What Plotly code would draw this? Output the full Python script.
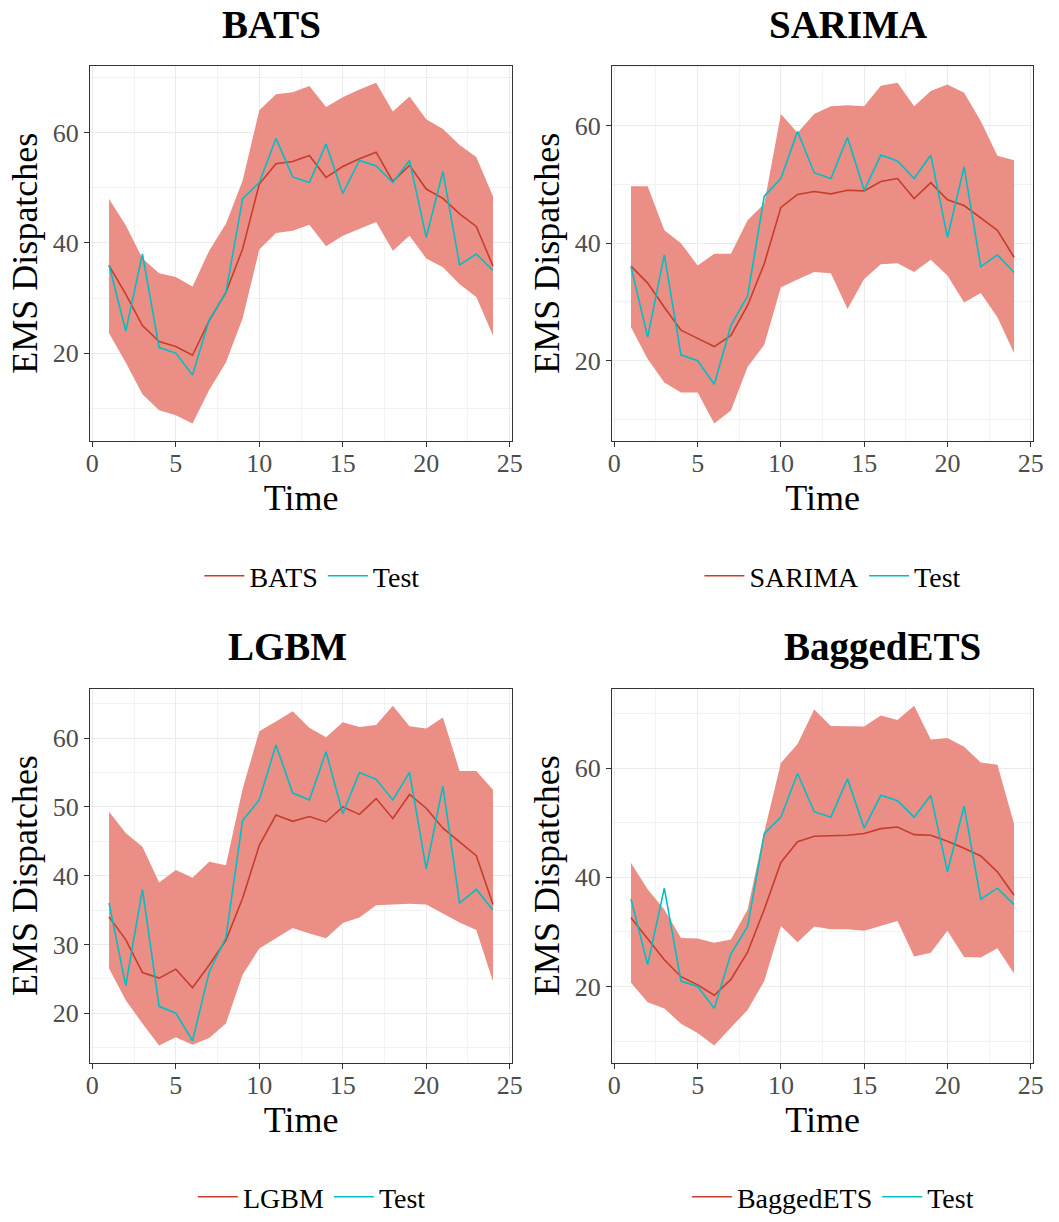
import plotly.graph_objects as go

time = list(range(1, 25))
test = [36, 24, 38, 21, 20, 16, 26, 31, 48, 51, 59, 52, 51, 58, 49, 55, 54, 51, 55, 41, 53, 36, 38, 35]

bats_mean = [35.9, 30.7, 25.0, 22.1, 21.2, 19.6, 25.9, 31.0, 38.9, 50.7, 54.4, 54.8, 55.9, 51.9, 53.9, 55.3, 56.5, 51.2, 54.1, 49.8, 48.1, 45.3, 43.0, 35.8]
bats_hi = [48.0, 43.2, 37.2, 34.5, 33.8, 32.1, 38.6, 43.5, 51.3, 64.1, 67.0, 67.4, 68.5, 64.7, 66.5, 67.9, 69.1, 63.9, 66.6, 62.5, 60.7, 57.8, 55.6, 48.5]
bats_lo = [23.6, 18.3, 12.5, 9.6, 8.7, 7.2, 13.3, 18.3, 26.3, 38.8, 41.8, 42.2, 43.3, 39.4, 41.3, 42.5, 43.8, 38.6, 41.3, 37.2, 35.6, 32.5, 30.2, 23.2]

sarima_mean = [36.1, 33.2, 29.1, 25.2, 23.8, 22.4, 24.3, 29.4, 36.5, 46.1, 48.3, 48.8, 48.4, 49.0, 48.9, 50.5, 51.0, 47.6, 50.3, 47.4, 46.4, 44.3, 42.2, 37.6]
sarima_hi = [49.7, 49.7, 42.2, 40.0, 36.2, 38.2, 38.2, 43.9, 46.7, 62.0, 58.8, 62.0, 63.3, 63.5, 63.3, 66.8, 67.3, 63.3, 65.9, 67.0, 65.6, 60.8, 54.9, 54.1]
sarima_lo = [25.7, 20.3, 16.3, 14.6, 14.6, 9.3, 11.5, 18.9, 22.7, 32.5, 33.8, 35.1, 34.9, 28.8, 33.9, 36.4, 36.6, 35.1, 37.2, 34.5, 29.9, 31.5, 27.4, 21.3]

lgbm_mean = [34.0, 30.7, 25.9, 25.1, 26.4, 23.7, 27.0, 30.6, 36.7, 44.4, 48.8, 47.9, 48.6, 47.8, 50.0, 48.9, 51.2, 48.3, 51.8, 49.8, 46.9, 44.9, 42.9, 35.8]
lgbm_hi = [49.3, 46.2, 44.2, 39.0, 40.8, 39.7, 42.0, 41.5, 52.6, 61.0, 62.4, 63.9, 61.5, 60.1, 62.3, 61.6, 61.9, 64.7, 61.7, 61.4, 63.0, 55.2, 55.2, 52.5]
lgbm_lo = [26.5, 21.9, 18.5, 15.3, 16.5, 15.4, 16.4, 18.5, 25.6, 29.4, 30.9, 32.4, 31.6, 30.9, 33.1, 33.9, 35.7, 35.8, 35.9, 35.8, 34.5, 33.2, 32.1, 24.6]

bets_mean = [32.6, 28.8, 24.9, 21.8, 20.3, 18.4, 21.3, 26.3, 34.1, 42.7, 46.5, 47.5, 47.6, 47.7, 48.0, 48.9, 49.2, 47.8, 47.7, 46.6, 45.3, 43.9, 41.0, 36.7]
bets_hi = [42.6, 37.8, 34.1, 28.9, 28.8, 28.0, 28.6, 34.1, 48.3, 60.9, 64.4, 70.7, 67.7, 67.6, 67.6, 69.6, 68.8, 71.4, 65.2, 65.5, 63.9, 61.0, 60.6, 49.8]
bets_lo = [20.7, 17.1, 16.0, 13.2, 11.5, 9.2, 12.5, 15.7, 21.0, 31.1, 28.1, 31.0, 30.5, 30.5, 30.2, 31.1, 32.0, 25.5, 26.2, 30.2, 25.4, 25.3, 27.0, 22.4]

models = ["BATS", "SARIMA", "LGBM", "BaggedETS"]
y_dticks = [20, 20, 10, 20]

W, H = 1059, 1222
FONT = "Liberation Serif"
RIBBON = "#EB8E86"
RED = "#C63D2B"
CYAN = "#00BFC4"

# panel pixel boxes (left, right, top, bottom)
boxes = [(87, 515, 66, 442), (616, 1043, 66, 442), (87, 515, 691, 1066), (616, 1043, 691, 1066)]
title_pos = [(271, 25), (855, 25), (287, 649), (890, 649)]
legend_pos = [(312, 578), (840, 578), (312, 1201), (840, 1201)]

series = [
    (bats_mean, bats_lo, bats_hi),
    (sarima_mean, sarima_lo, sarima_hi),
    (lgbm_mean, lgbm_lo, lgbm_hi),
    (bets_mean, bets_lo, bets_hi),
]

fig = go.Figure()
annotations = []
layout = {}

for i, (name, (mean, lo, hi)) in enumerate(zip(models, series)):
    k = "" if i == 0 else str(i + 1)
    xa, ya = "x" + k, "y" + k
    leg = "legend" + k
    fig.add_trace(go.Scatter(x=time, y=hi, mode="lines", line=dict(width=0, color=RIBBON),
                             xaxis=xa, yaxis=ya, showlegend=False, hoverinfo="skip"))
    fig.add_trace(go.Scatter(x=time, y=lo, mode="lines", line=dict(width=0, color=RIBBON),
                             fill="tonexty", fillcolor=RIBBON,
                             xaxis=xa, yaxis=ya, showlegend=False, hoverinfo="skip"))
    fig.add_trace(go.Scatter(x=time, y=mean, mode="lines", name=name, line=dict(width=1.6, color=RED),
                             xaxis=xa, yaxis=ya, legend=leg, legendrank=1))
    fig.add_trace(go.Scatter(x=time, y=test, mode="lines", name="Test", line=dict(width=1.6, color=CYAN),
                             xaxis=xa, yaxis=ya, legend=leg, legendrank=2))

    l, r, t, b = boxes[i]
    ymin, ymax = min(lo + test), max(hi + test)
    pad = 0.05 * (ymax - ymin)
    xmin, xmax = min(time), max(time)
    xpad = 0.05 * (xmax - xmin)
    common = dict(showline=True, mirror=True, linecolor="#333333", linewidth=1,
                  ticks="outside", ticklen=5, tickcolor="#333333", tickwidth=1,
                  showgrid=True, gridcolor="#EBEBEB", gridwidth=1.2, zeroline=False,
                  tickfont=dict(family=FONT, size=26, color="#4D4D4D"))
    layout["xaxis" + k] = dict(common, domain=[l / W, r / W], anchor=ya,
                               range=[xmin - xpad, xmax + xpad], tick0=0, dtick=5,
                               ticklabelstandoff=-6,
                               minor=dict(dtick=2.5, tick0=0, showgrid=True, gridcolor="#F2F2F2", gridwidth=0.8, ticks=""),
                               title=dict(text="Time", font=dict(family=FONT, size=36, color="black"), standoff=0))
    layout["yaxis" + k] = dict(common, domain=[1 - b / H, 1 - t / H], anchor=xa,
                               range=[ymin - pad, ymax + pad], tick0=0, dtick=y_dticks[i],
                               minor=dict(dtick=y_dticks[i] / 2, tick0=0, showgrid=True, gridcolor="#F2F2F2", gridwidth=0.8, ticks=""),
                               title=dict(text="EMS Dispatches", font=dict(family=FONT, size=36, color="black"), standoff=4))
    tx, ty = title_pos[i]
    annotations.append(dict(text="<b>" + name + "</b>", x=tx / W, y=1 - ty / H, xref="paper", yref="paper",
                            xanchor="center", yanchor="middle", showarrow=False,
                            font=dict(family=FONT, size=39, color="black")))
    lx, ly = legend_pos[i]
    layout[leg] = dict(x=lx / W, y=1 - ly / H, xanchor="center", yanchor="middle", orientation="h",
                       font=dict(family=FONT, size=28, color="black"), bgcolor="rgba(0,0,0,0)",
                       itemwidth=40, tracegroupgap=0, traceorder="normal")

fig.update_layout(**layout)
fig.update_layout(width=W, height=H, margin=dict(l=0, r=0, t=0, b=0),
                  paper_bgcolor="white", plot_bgcolor="white",
                  annotations=annotations, hovermode=False)

fig.write_html("out.html")
